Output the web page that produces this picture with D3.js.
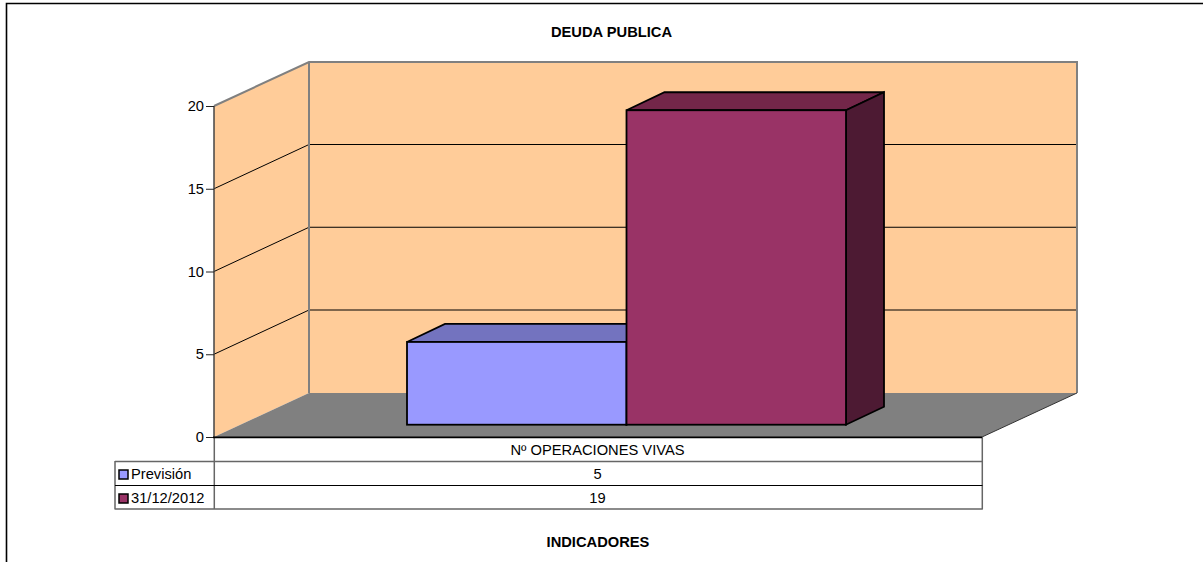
<!DOCTYPE html>
<html><head><meta charset="utf-8">
<script src="https://cdn.jsdelivr.net/npm/d3@7"></script>
<style>html,body{margin:0;padding:0;background:#fff}svg{display:block}text{font-family:"Liberation Sans",Arial,sans-serif;fill:#000}</style>
</head><body><svg id="c" width="1203" height="562"></svg>
<script>
const categories = ["Nº OPERACIONES VIVAS"];
const seriesNames = ["Previsión", "31/12/2012"];
const seriesValues = [5, 19];
const tickValues = [0, 5, 10, 15, 20];
const title = "DEUDA PUBLICA";
const xTitle = "INDICADORES";
const colFront = ["#9999ff", "#993366"];
const colTop = ["#7373bf", "#732649"];
const colSide = ["#4d4d80", "#4d1a33"];

const svg = d3.select("#c");
const FS = 14.7;
const y = d3.scaleLinear().domain([0, 20]).range([437, 106]);
const x = d3.scaleLinear().domain([0, 1]).range([214, 982]);
const depth = {x: 95, y: -44};
const line = d3.line();

// outer frame
svg.append("path").attr("d", "M6.5,562V3.5H1203").attr("fill", "none").attr("stroke", "#000").attr("stroke-width", 1.6);

svg.append("text").attr("x", 611.5).attr("y", 37).attr("text-anchor", "middle")
  .attr("font-size", FS).attr("font-weight", "bold").text(title);

const x0 = x(0), x1 = x(1), yb = y(0), yt = y(20);
// walls
svg.append("path").attr("d", line([[x0,yb],[x0,yt],[x0+depth.x,yt+depth.y],[x0+depth.x,yb+depth.y]])+"Z").attr("fill","#ffcc99");
svg.append("path").attr("d", line([[x0+depth.x,yb+depth.y],[x0+depth.x,yt+depth.y],[x1+depth.x,yt+depth.y],[x1+depth.x,yb+depth.y]])+"Z").attr("fill","#ffcc99");
svg.append("path").attr("d", line([[x0,yb],[x0+depth.x,yb+depth.y],[x1+depth.x,yb+depth.y],[x1,yb]])+"Z").attr("fill","#808080");

// gridlines
tickValues.filter(t => t > 0 && t < 20).forEach(t => {
  svg.append("path").attr("fill","none").attr("stroke","#000").attr("stroke-width",1)
    .attr("d", line([[x0,y(t)],[x0+depth.x,y(t)+depth.y-.25],[x1+depth.x,y(t)+depth.y-.25]]));
});
// wall edges
svg.append("path").attr("fill","none").attr("stroke","#808080").attr("stroke-width",2)
  .attr("d", line([[x0,yt],[x0+depth.x,yt+depth.y],[x1+depth.x,yt+depth.y],[x1+depth.x,yb+depth.y]]));
svg.append("path").attr("fill","none").attr("stroke","#808080").attr("stroke-width",2)
  .attr("d", line([[x0+depth.x,yt+depth.y],[x0+depth.x,yb+depth.y]]));
svg.append("path").attr("fill","none").attr("stroke","#333").attr("stroke-width",1)
  .attr("d", line([[x1,yb],[x1+depth.x,yb+depth.y]]));

// bars
const barBand = d3.scaleBand().domain(seriesNames).range([407, 846]);
const barFloor = 424.7, unit = yb - y(1);
const bd = {x: 38, y: -18};
const bars = seriesNames.map((n,i) => ({n,i,v:seriesValues[i],bx:barBand(n),bw:barBand.bandwidth(),top:barFloor-seriesValues[i]*unit}));
const barG = svg.append("g").attr("stroke","#000").attr("stroke-width",1.8).attr("stroke-linejoin","miter");
bars.forEach(b => {
  barG.append("path").attr("fill",colTop[b.i]).attr("d", line([[b.bx,b.top],[b.bx+bd.x,b.top+bd.y],[b.bx+b.bw+bd.x,b.top+bd.y],[b.bx+b.bw,b.top]])+"Z");
  barG.append("path").attr("fill",colSide[b.i]).attr("d", line([[b.bx+b.bw,b.top],[b.bx+b.bw+bd.x,b.top+bd.y],[b.bx+b.bw+bd.x,barFloor+bd.y],[b.bx+b.bw,barFloor]])+"Z");
  barG.append("rect").attr("fill",colFront[b.i]).attr("x",b.bx).attr("y",b.top).attr("width",b.bw).attr("height",barFloor-b.top);
});

// y axis
const axis = d3.axisLeft(y).tickValues(tickValues).tickSize(8).tickPadding(2);
const ag = svg.append("g").attr("transform",`translate(${x0},0)`).call(axis);
ag.select(".domain").attr("stroke","#444").attr("stroke-width",1.5).attr("d",`M0,${yt}V${yb}`);
ag.selectAll(".tick line").attr("stroke","#222");
ag.selectAll("text").attr("font-size",FS).attr("font-family",'"Liberation Sans",Arial,sans-serif').attr("fill","#000");

// data table
const rowY = d3.scaleBand().domain(["cat", ...seriesNames]).range([437, 509]);
const tg = svg.append("g");
tg.append("path").attr("fill","none").attr("stroke","#666").attr("stroke-width",1.5).attr("d",
  `M214.3,437V509.5M982.3,437V509.5M115,461V509.5M115,461.6H982.5M115,509H982.5`);
tg.append("path").attr("fill","none").attr("stroke","#000").attr("d","M115,485.5H982.5");
svg.append("path").attr("stroke","#000").attr("stroke-width",1.8).attr("d",`M${x0-1},${yb+.4}H${x1}`);

const cx = 597.5;
tg.append("text").attr("x",cx).attr("y",rowY("cat")+rowY.bandwidth()/2+5.5).attr("text-anchor","middle").attr("font-size",FS).text(categories[0]);
seriesNames.forEach((n,i) => {
  const ry = rowY(n)+rowY.bandwidth()/2;
  tg.append("text").attr("x",cx).attr("y",ry+5.5).attr("text-anchor","middle").attr("font-size",FS).text(seriesValues[i]);
  tg.append("text").attr("x",131).attr("y",ry+6).attr("font-size",FS).text(n);
  tg.append("rect").attr("x",119).attr("y",ry-3).attr("width",9).attr("height",9).attr("fill",colFront[i]).attr("stroke","#000").attr("stroke-width",1.5);
});

svg.append("text").attr("x",598).attr("y",547).attr("text-anchor","middle").attr("font-size",FS).attr("font-weight","bold").text(xTitle);
</script></body></html>
